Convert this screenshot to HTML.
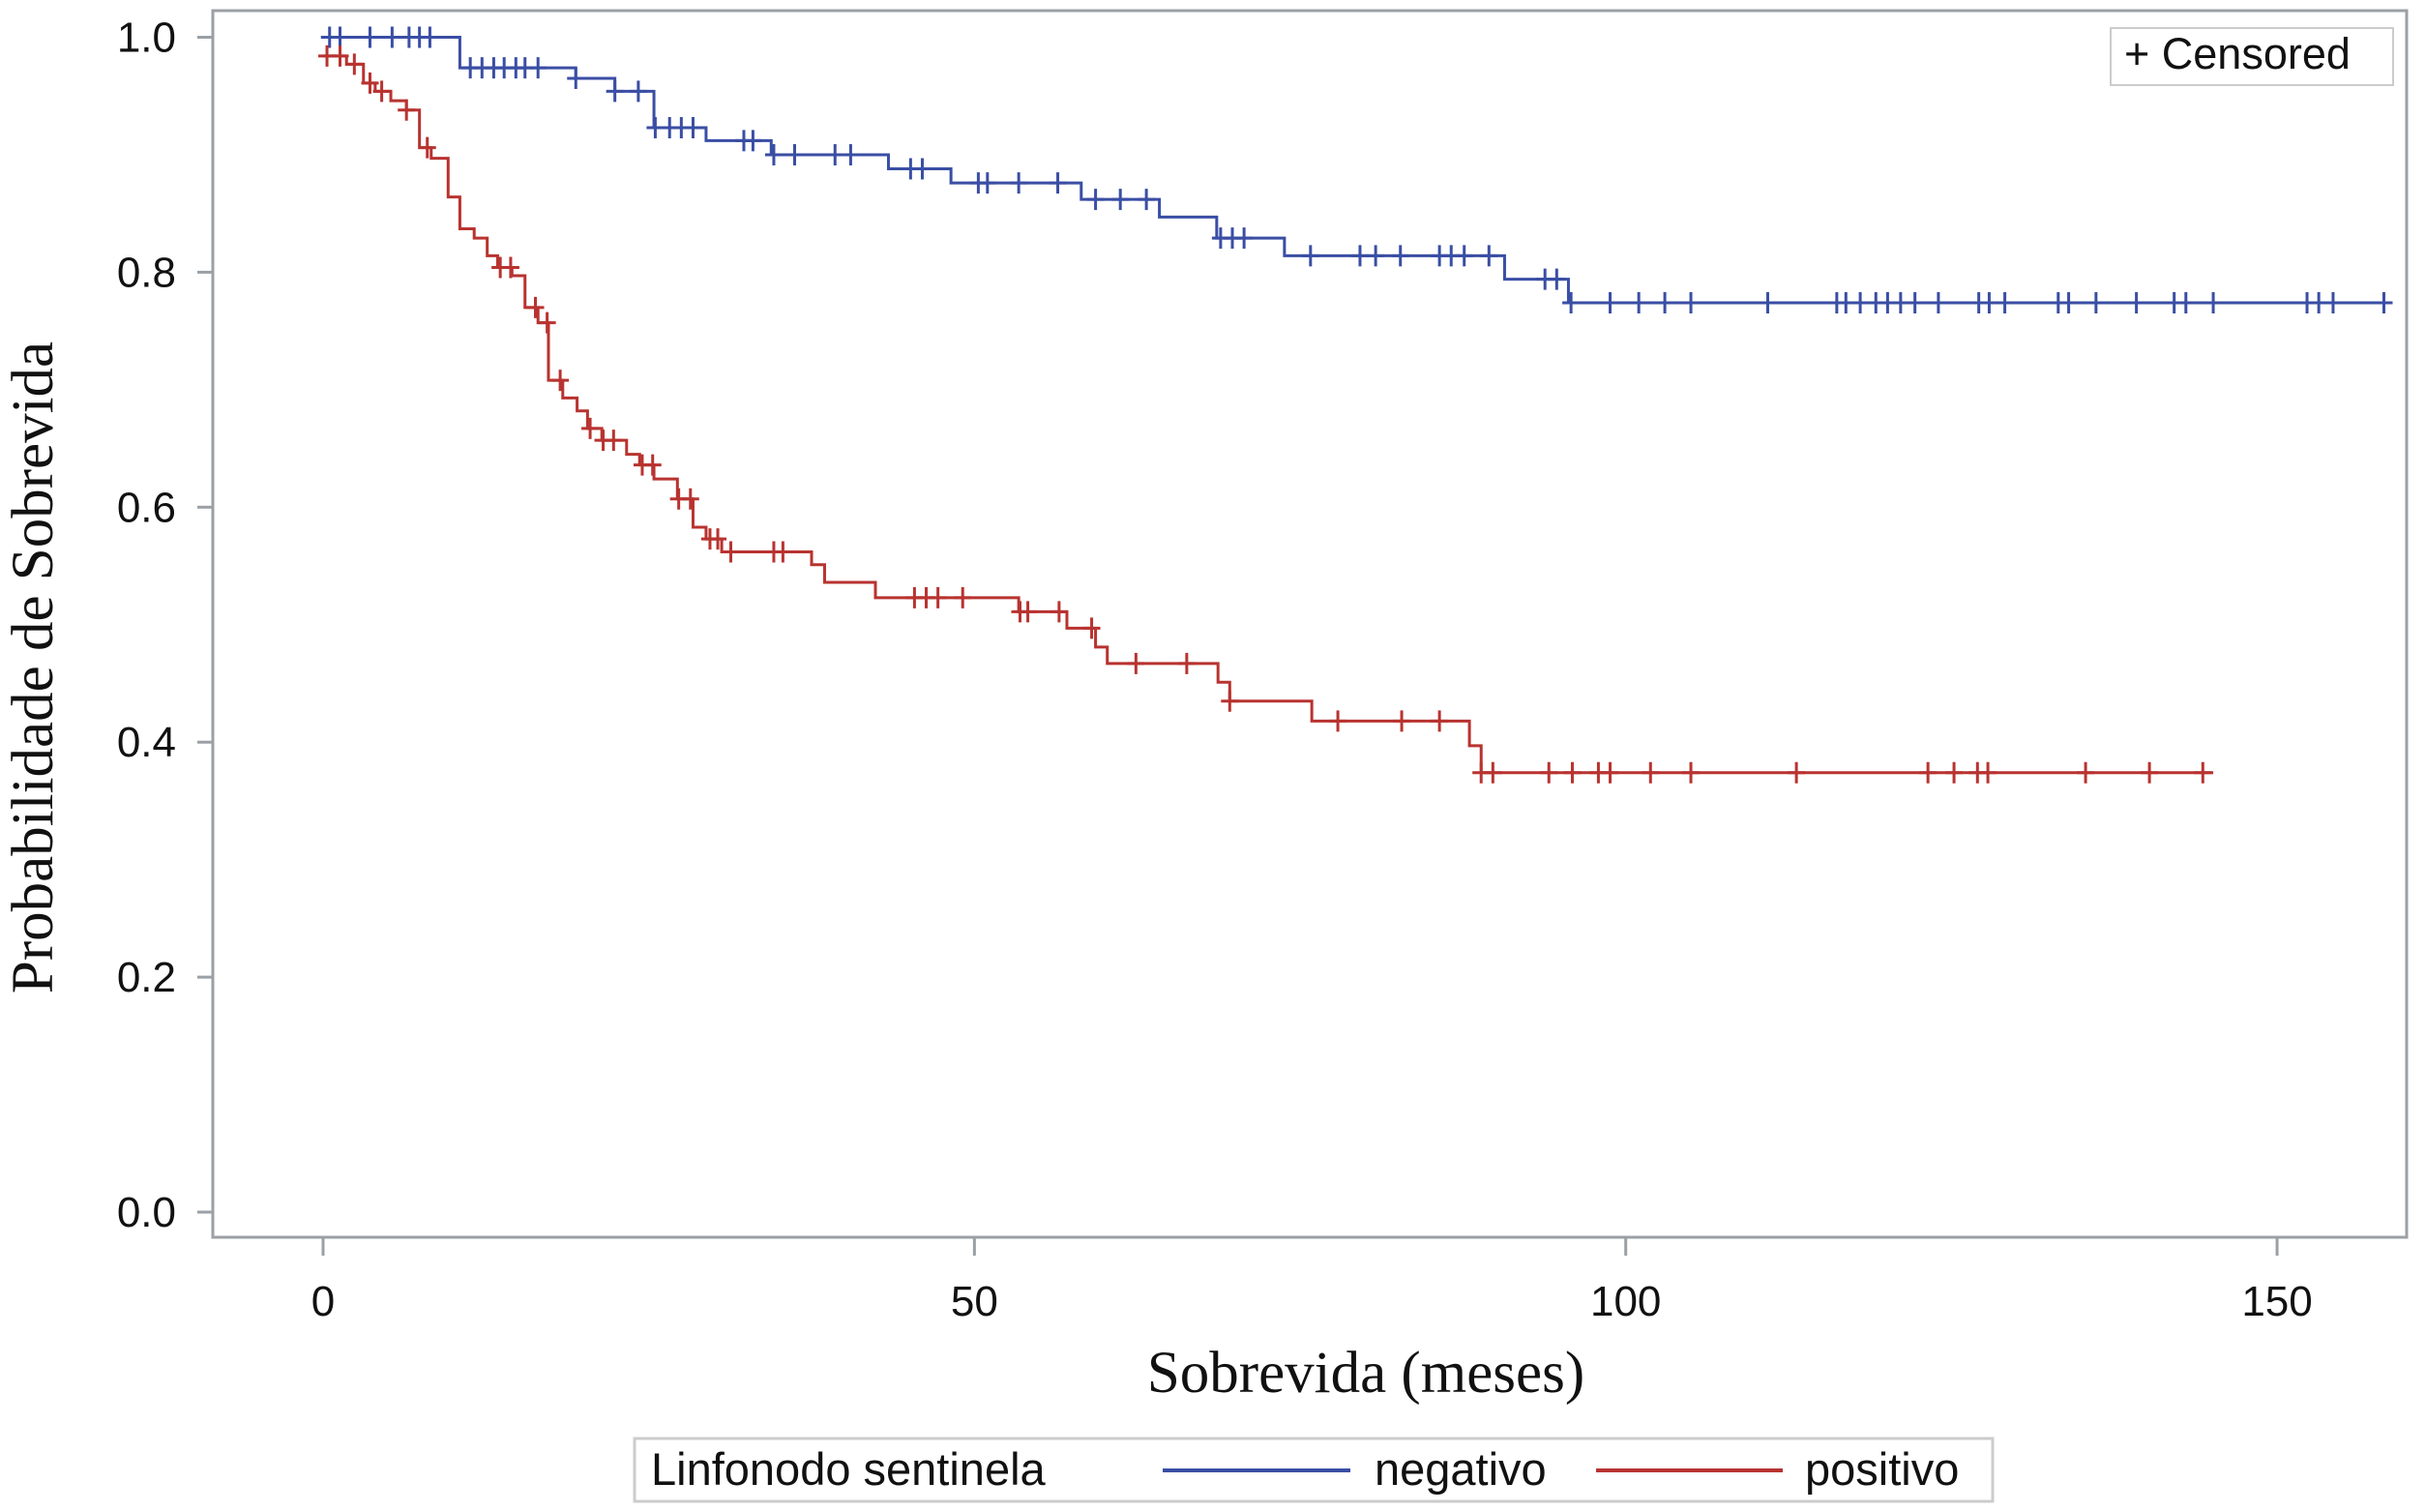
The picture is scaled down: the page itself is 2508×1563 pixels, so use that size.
<!DOCTYPE html>
<html><head><meta charset="utf-8"><style>
html,body{margin:0;padding:0;background:#fff;}
svg{display:block;}
</style></head><body>
<svg id="chart" width="2508" height="1563" viewBox="0 0 2508 1563" xmlns="http://www.w3.org/2000/svg">
<rect x="0" y="0" width="2508" height="1563" fill="#fff"/>
<rect x="220" y="11" width="2268" height="1268" fill="none" stroke="#9aa0a6" stroke-width="3"/>
<g id="yaxis"></g>
<g id="xaxis"></g>
<g id="series"></g>
<text x="40" y="690" transform="rotate(-90 40 690)" text-anchor="middle" dominant-baseline="middle" font-family="Liberation Serif, serif" font-size="61" fill="#111">Probabilidade de Sobrevida</text>
<text x="1412" y="1425" text-anchor="middle" dominant-baseline="middle" font-family="Liberation Serif, serif" font-size="61" fill="#111">Sobrevida (meses)</text>
<g>
<rect x="2182" y="29" width="292" height="59" fill="#fff" stroke="#ccc" stroke-width="2"/>
<text x="2196" y="71" font-family="Liberation Sans, sans-serif" font-size="45" fill="#111">+ Censored</text>
</g>
<g>
<rect x="656" y="1487" width="1404" height="65" fill="#fff" stroke="#ccc" stroke-width="3"/>
<text x="673" y="1535" font-family="Liberation Sans, sans-serif" font-size="47" fill="#111">Linfonodo sentinela</text>
<line x1="1202" y1="1520" x2="1396" y2="1520" stroke="#3a4ea4" stroke-width="4"/>
<text x="1421" y="1535" font-family="Liberation Sans, sans-serif" font-size="47" fill="#111">negativo</text>
<line x1="1650" y1="1520" x2="1843" y2="1520" stroke="#b83330" stroke-width="4"/>
<text x="1866" y="1535" font-family="Liberation Sans, sans-serif" font-size="47" fill="#111">positivo</text>
</g>
</svg>
<script>
const xTicks = [0, 50, 100, 150];
const yTicks = [0.0, 0.2, 0.4, 0.6, 0.8, 1.0];
const yTickLabels = ["0.0", "0.2", "0.4", "0.6", "0.8", "1.0"];
const negTimes = [0, 10.5, 19.4, 22.4, 25.4, 29.4, 34.4, 43.4, 48.2, 58.2, 64.2, 68.6, 73.8, 90.7, 95.6];
const negSurv = [1.0, 0.974, 0.965, 0.954, 0.923, 0.912, 0.900, 0.888, 0.876, 0.862, 0.847, 0.829, 0.814, 0.794, 0.774];
const negEnd = 158.4;
const negCensor = [0.5, 1.3, 3.6, 5.3, 6.6, 7.4, 8.2, 11.3, 12.2, 13.1, 13.9, 14.8, 15.5, 16.5, 19.4, 22.4, 24.2, 25.5, 26.6, 27.5, 28.4, 32.3, 33, 34.6, 36.2, 39.3, 40.5, 45.1, 46, 50.3, 51, 53.4, 56.4, 59.3, 61.2, 63.2, 68.9, 69.8, 70.7, 75.8, 79.6, 80.8, 82.7, 85.7, 86.6, 87.6, 89.5, 93.8, 94.7, 95.8, 98.8, 101, 103, 105, 110.9, 116.2, 116.9, 118, 119.2, 120.1, 121.1, 122.2, 124, 127.1, 127.9, 129.1, 133.2, 134, 136.1, 139.2, 142.1, 143, 145.1, 152.3, 153.2, 154.3, 158.2];
const posTimes = [0, 1.8, 3.1, 4.0, 5.2, 6.4, 7.4, 8.3, 9.6, 10.5, 11.6, 12.6, 13.4, 14.5, 15.5, 16.5, 17.3, 18.4, 19.5, 20.3, 21.4, 23.3, 24.3, 25.4, 27.2, 28.4, 29.4, 30.6, 37.5, 38.5, 42.4, 53.4, 57.1, 59.3, 60.2, 68.7, 69.6, 75.9, 88.0, 88.9];
const posSurv = [0.984, 0.977, 0.961, 0.954, 0.946, 0.938, 0.906, 0.897, 0.864, 0.837, 0.829, 0.814, 0.804, 0.797, 0.770, 0.757, 0.708, 0.693, 0.682, 0.667, 0.657, 0.645, 0.636, 0.624, 0.607, 0.583, 0.573, 0.562, 0.551, 0.536, 0.523, 0.511, 0.497, 0.481, 0.467, 0.451, 0.435, 0.418, 0.397, 0.374];
const posEnd = 145.1;
const posCensor = [0.3, 1.3, 2.4, 3.6, 4.5, 6.4, 8.0, 13.6, 14.4, 16.3, 17.2, 18.2, 20.5, 21.5, 22.3, 24.5, 25.3, 27.3, 28.2, 29.7, 30.3, 31.3, 34.6, 35.3, 45.4, 46.3, 47.2, 49.1, 53.5, 54.1, 56.5, 59.0, 62.4, 66.3, 69.6, 77.9, 82.8, 85.7, 88.9, 89.8, 94.1, 95.9, 97.9, 98.8, 101.9, 105, 113.1, 123.2, 125.2, 127, 127.8, 135.3, 140.2, 144.3];

const NS = "http://www.w3.org/2000/svg";
const X0 = 334, XPX = 13.467, Y1 = 38.5, Y0 = 1253;
function xs(t){ return X0 + t * XPX; }
function ys(v){ return Y0 - v * (Y0 - Y1); }
function mk(tag, attrs, parent){ const e = document.createElementNS(NS, tag); for (const k in attrs) e.setAttribute(k, attrs[k]); parent.appendChild(e); return e; }

const yg = document.getElementById('yaxis');
yTicks.forEach((v, i) => {
  const tk = mk('line', {x1: 204, x2: 220, y1: ys(v), y2: ys(v), stroke: '#9aa0a6', 'stroke-width': 3}, yg);
  
  
  const tl = mk('text', {x: 182, y: ys(v) + 15, 'text-anchor': 'end', 'font-family': 'Liberation Sans, sans-serif', 'font-size': 44, fill: '#111'}, yg);
  tl.textContent = yTickLabels[i];
  
  
});
const xg = document.getElementById('xaxis');
xTicks.forEach(t => {
  const tk = mk('line', {x1: xs(t), x2: xs(t), y1: 1279, y2: 1298, stroke: '#9aa0a6', 'stroke-width': 3}, xg);
  
  
  const tl = mk('text', {x: xs(t), y: 1360, 'text-anchor': 'middle', 'font-family': 'Liberation Sans, sans-serif', 'font-size': 44, fill: '#111'}, xg);
  tl.textContent = String(t);
  
  
});

function survAt(times, surv, t){ let v = surv[0]; for (let i = 0; i < times.length; i++) if (times[i] <= t) v = surv[i]; return v; }
function drawSeries(times, surv, end, cens, color, name){
  const sg = document.getElementById('series');
  let d = 'M' + xs(times[0]) + ' ' + ys(surv[0]);
  for (let i = 1; i < times.length; i++) d += ' H' + xs(times[i]) + ' V' + ys(surv[i]);
  d += ' H' + xs(end);
  const p = mk('path', {d: d, fill: 'none', stroke: color, 'stroke-width': 3}, sg);
  
  
  cens.forEach(t => {
    const cx = xs(t), cy = ys(survAt(times, surv, t));
    const m = mk('path', {d: 'M' + (cx - 9) + ' ' + cy + ' H' + (cx + 9) + ' M' + cx + ' ' + (cy - 11) + ' V' + (cy + 11), stroke: color, 'stroke-width': 3, fill: 'none'}, sg);
    
    
  });
}
drawSeries(negTimes, negSurv, negEnd, negCensor, '#3a4ea4', 'negativo');
drawSeries(posTimes, posSurv, posEnd, posCensor, '#b83330', 'positivo');
</script>
</body></html>
